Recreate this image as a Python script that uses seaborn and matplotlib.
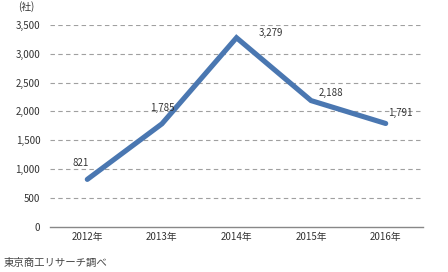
import matplotlib
matplotlib.use("Agg")
import matplotlib.pyplot as plt
import seaborn as sns
import pandas as pd
import numpy as np

years = ["2012年", "2013年", "2014年", "2015年", "2016年"]
counts = [821, 1785, 3279, 2188, 1791]
label_texts = ["821", "1,785", "3,279", "2,188", "1,791"]
y_ticks = [0, 500, 1000, 1500, 2000, 2500, 3000, 3500]
y_tick_labels = ["0", "500", "1,000", "1,500", "2,000", "2,500", "3,000", "3,500"]
unit_label = "(社)"
source_label = "東京商工リサーチ調べ"

sns.set_theme(style="white")
plt.rcParams['font.family'] = ['Noto Sans CJK JP', 'DejaVu Sans']

df = pd.DataFrame({"year": years, "count": counts})

fig = plt.figure(figsize=(4.48, 2.72), dpi=100)
ax = fig.add_axes([50/448, 1-226.7/272, (423-50)/448, (226.7-25)/272])

sns.lineplot(data=df, x="year", y="count", ax=ax, color="#4a77b1",
             linewidth=3.7, solid_capstyle="round", solid_joinstyle="miter", sort=False)

ax.set_xlim(-0.5, len(years) - 0.5)
ax.set_ylim(0, 3500)
ax.set_yticks(y_ticks)
ax.set_yticklabels(y_tick_labels)
ax.set_xlabel("")
ax.set_ylabel("")

for y in y_ticks[1:]:
    ax.axhline(y, color="#a0a0a0", linewidth=0.8, linestyle=(0, (4, 3)), zorder=0)

for s in ["left", "top", "right"]:
    ax.spines[s].set_visible(False)
ax.spines["bottom"].set_color("#888888")
ax.spines["bottom"].set_linewidth(1.0)

ax.tick_params(axis="y", length=0, pad=7, labelsize=7, labelcolor="#333333")
ax.tick_params(axis="x", which="major", length=0, pad=4, labelsize=7, labelcolor="#333333")
ax.set_xticks(np.arange(-0.5, len(years)), minor=True)
ax.tick_params(axis="x", which="minor", direction="in", length=3, color="#888888", width=1)

offsets = [(-7, 16), (0, 16), (34, 5), (20, 8), (15, 11)]
for i, (v, t) in enumerate(zip(counts, label_texts)):
    ax.annotate(t, xy=(i, v), xytext=offsets[i], textcoords="offset pixels",
                ha="center", va="center", fontsize=7, color="#333333")

fig.text(26/448, 1-7/272, unit_label, ha="center", va="center", fontsize=7, color="#333333")
fig.text(4/448, 1-263/272, source_label, ha="left", va="center", fontsize=7.5, color="#444444")

fig.savefig("out.png", dpi=100, facecolor="white")
